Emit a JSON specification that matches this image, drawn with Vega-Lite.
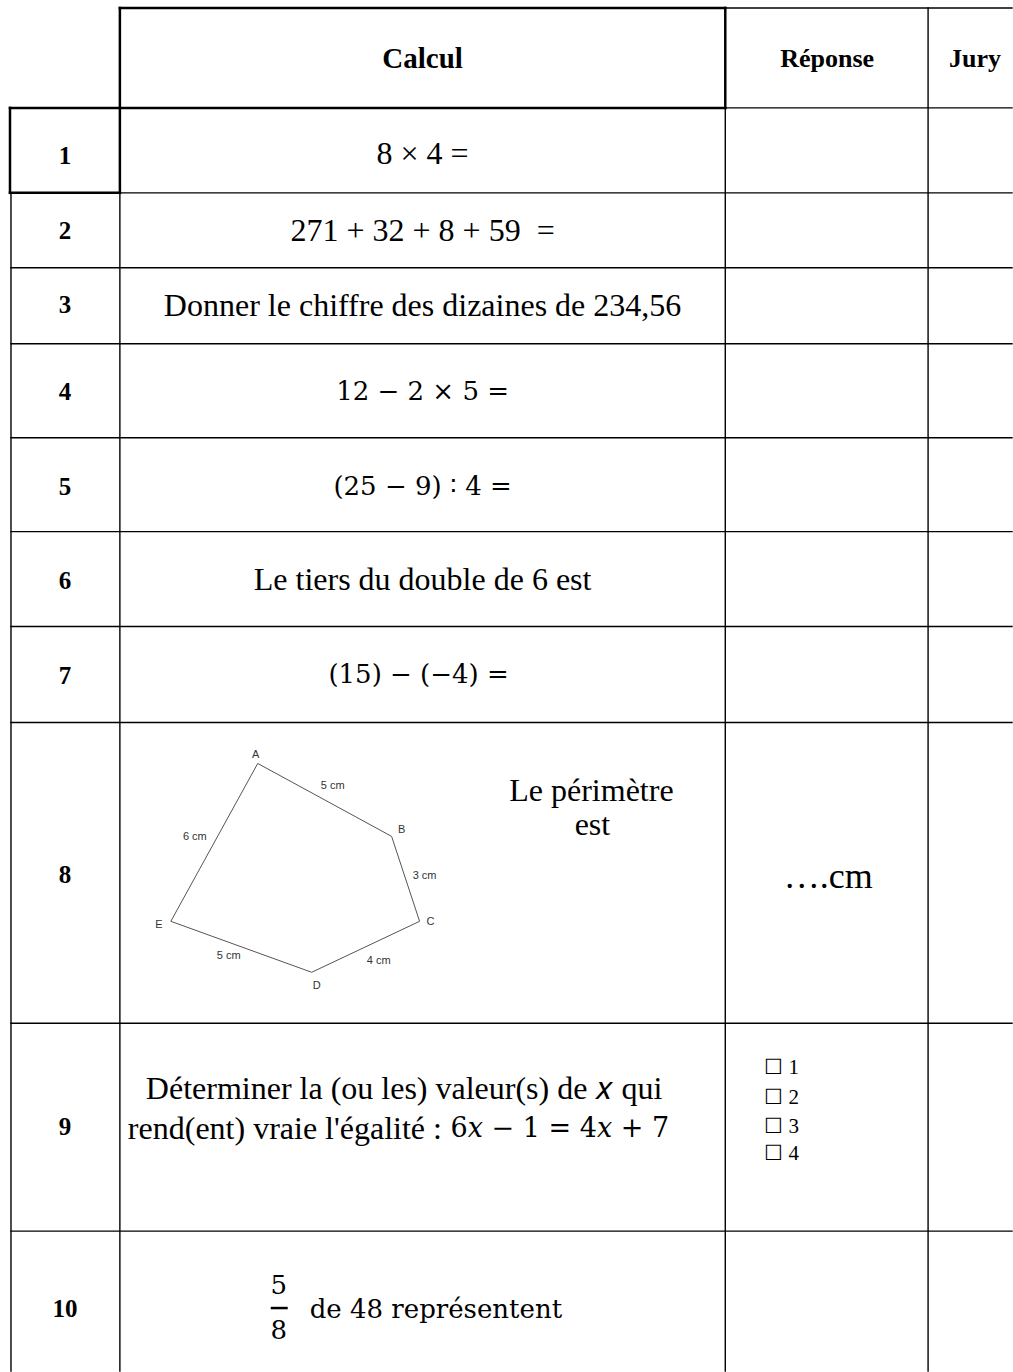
{
  "$schema": "https://vega.github.io/schema/vega-lite/v6.json",
  "autosize": {"type": "fit", "contains": "padding"},
  "width": 1013,
  "height": 1372,
  "padding": 0,
  "background": "white",
  "config": {"view": {"stroke": null}},
  "datasets": {
    "grid": [
      {"x": 120, "x2": 726, "y": 8, "y2": 8, "weight": "thick"},
      {"x": 726, "x2": 1013, "y": 8, "y2": 8, "weight": "thin"},
      {"x": 10, "x2": 726, "y": 108, "y2": 108, "weight": "thick"},
      {"x": 726, "x2": 1013, "y": 108, "y2": 108, "weight": "thin"},
      {"x": 10, "x2": 120, "y": 193, "y2": 193, "weight": "thick"},
      {"x": 120, "x2": 1013, "y": 193, "y2": 193, "weight": "thin"},
      {"x": 11, "x2": 1013, "y": 268, "y2": 268, "weight": "thin"},
      {"x": 11, "x2": 1013, "y": 344, "y2": 344, "weight": "thin"},
      {"x": 11, "x2": 1013, "y": 438, "y2": 438, "weight": "thin"},
      {"x": 11, "x2": 1013, "y": 532, "y2": 532, "weight": "thin"},
      {"x": 11, "x2": 1013, "y": 627, "y2": 627, "weight": "thin"},
      {"x": 11, "x2": 1013, "y": 723, "y2": 723, "weight": "thin"},
      {"x": 11, "x2": 1013, "y": 1024, "y2": 1024, "weight": "thin"},
      {"x": 11, "x2": 1013, "y": 1232, "y2": 1232, "weight": "thin"},
      {"x": 10, "x2": 10, "y": 108, "y2": 193, "weight": "thick"},
      {"x": 11, "x2": 11, "y": 193, "y2": 1372, "weight": "thin"},
      {"x": 120, "x2": 120, "y": 8, "y2": 193, "weight": "thick"},
      {"x": 120, "x2": 120, "y": 193, "y2": 1372, "weight": "thin"},
      {"x": 726, "x2": 726, "y": 8, "y2": 108, "weight": "thick"},
      {"x": 726, "x2": 726, "y": 108, "y2": 1372, "weight": "thin"},
      {"x": 929, "x2": 929, "y": 8, "y2": 1372, "weight": "thin"}
    ],
    "polygon": [
      {"pt": "A", "order": 1, "x": 258, "y": 764},
      {"pt": "B", "order": 2, "x": 392, "y": 837},
      {"pt": "C", "order": 3, "x": 420, "y": 922},
      {"pt": "D", "order": 4, "x": 312, "y": 973},
      {"pt": "E", "order": 5, "x": 171, "y": 922},
      {"pt": "A", "order": 6, "x": 258, "y": 764}
    ],
    "figlabels": [
      {"text": "A", "x": 256, "y": 756},
      {"text": "B", "x": 402, "y": 831},
      {"text": "C", "x": 431, "y": 923},
      {"text": "D", "x": 317, "y": 987},
      {"text": "E", "x": 159, "y": 926},
      {"text": "5 cm", "x": 333, "y": 787},
      {"text": "6 cm", "x": 195, "y": 838},
      {"text": "3 cm", "x": 425, "y": 877},
      {"text": "4 cm", "x": 379, "y": 962},
      {"text": "5 cm", "x": 229, "y": 957}
    ],
    "headers": [
      {"text": "Calcul", "x": 423, "y": 59},
      {"text": "Réponse", "x": 828, "y": 59},
      {"text": "Jury", "x": 976, "y": 59}
    ],
    "numbers": [
      {"text": "1", "x": 65, "y": 156},
      {"text": "2", "x": 65, "y": 231},
      {"text": "3", "x": 65, "y": 305},
      {"text": "4", "x": 65, "y": 392},
      {"text": "5", "x": 65, "y": 487},
      {"text": "6", "x": 65, "y": 581},
      {"text": "7", "x": 65, "y": 676},
      {"text": "8", "x": 65, "y": 876},
      {"text": "9", "x": 65, "y": 1128},
      {"text": "10", "x": 65, "y": 1310}
    ],
    "textcells": [
      {"text": "8 × 4 =", "x": 423, "y": 154},
      {"text": "271 + 32 + 8 + 59 \u00a0=", "x": 423, "y": 231},
      {"text": "Donner le chiffre des dizaines de 234,56", "x": 423, "y": 306},
      {"text": "Le tiers du double de 6 est", "x": 423, "y": 580},
      {"text": "Le périmètre", "x": 592, "y": 792},
      {"text": "est", "x": 593, "y": 826}
    ],
    "mathcells": [
      {"text": "12 − 2 × 5 =", "x": 423, "y": 392},
      {"text": "(25 − 9) ∶ 4 =", "x": 423, "y": 487},
      {"text": "(15) − (−4) =", "x": 419, "y": 675}
    ],
    "q9text": [
      {"text": "Déterminer la (ou les) valeur(s) de 𝑥 qui", "x": 146, "y": 1090},
      {"text": "rend(ent) vraie l'égalité :", "x": 128, "y": 1130}
    ],
    "q9math": [
      {"text": "6𝑥 − 1 = 4𝑥 + 7", "x": 451, "y": 1130}
    ],
    "q10frac": [
      {"text": "5", "x": 279, "y": 1287},
      {"text": "8", "x": 279, "y": 1332}
    ],
    "q10bar": [
      {"x": 271, "x2": 288, "y": 1309, "y2": 1309}
    ],
    "q10text": [
      {"text": "de 48 représentent", "x": 310, "y": 1311}
    ],
    "answer8": [
      {"text": "….cm", "x": 829, "y": 878}
    ],
    "choices": [
      {"text": "☐ 1", "x": 765, "y": 1069},
      {"text": "☐ 2", "x": 765, "y": 1099},
      {"text": "☐ 3", "x": 765, "y": 1128},
      {"text": "☐ 4", "x": 765, "y": 1155}
    ]
  },
  "encoding": {
    "x": {"field": "x", "type": "quantitative", "scale": {"domain": [0, 1013], "nice": false, "zero": false}, "axis": null},
    "y": {"field": "y", "type": "quantitative", "scale": {"domain": [0, 1372], "nice": false, "zero": false, "reverse": true}, "axis": null}
  },
  "layer": [
    {
      "data": {"name": "grid"},
      "mark": {"type": "rule", "color": "black", "strokeCap": "square"},
      "encoding": {
        "x2": {"field": "x2"},
        "y2": {"field": "y2"},
        "strokeWidth": {"field": "weight", "type": "nominal", "scale": {"domain": ["thin", "thick"], "range": [1.4, 2.5]}, "legend": null}
      }
    },
    {
      "data": {"name": "polygon"},
      "mark": {"type": "line", "color": "#555555", "strokeWidth": 1},
      "encoding": {"order": {"field": "order", "type": "quantitative"}}
    },
    {
      "data": {"name": "figlabels"},
      "mark": {"type": "text", "font": "Liberation Sans", "fontSize": 11, "color": "#333333", "align": "center", "baseline": "middle"},
      "encoding": {"text": {"field": "text"}}
    },
    {
      "data": {"name": "headers"},
      "transform": [{"filter": "datum.text === 'Calcul'"}],
      "mark": {"type": "text", "font": "Liberation Serif", "fontWeight": "bold", "fontSize": 29, "color": "black", "align": "center", "baseline": "middle"},
      "encoding": {"text": {"field": "text"}}
    },
    {
      "data": {"name": "headers"},
      "transform": [{"filter": "datum.text !== 'Calcul'"}],
      "mark": {"type": "text", "font": "Liberation Serif", "fontWeight": "bold", "fontSize": 26, "color": "black", "align": "center", "baseline": "middle"},
      "encoding": {"text": {"field": "text"}}
    },
    {
      "data": {"name": "numbers"},
      "mark": {"type": "text", "font": "Liberation Serif", "fontWeight": "bold", "fontSize": 25, "color": "black", "align": "center", "baseline": "middle"},
      "encoding": {"text": {"field": "text"}}
    },
    {
      "data": {"name": "textcells"},
      "mark": {"type": "text", "font": "Liberation Serif", "fontSize": 32, "color": "black", "align": "center", "baseline": "middle"},
      "encoding": {"text": {"field": "text"}}
    },
    {
      "data": {"name": "mathcells"},
      "mark": {"type": "text", "font": "DejaVu Serif", "fontSize": 26, "color": "black", "align": "center", "baseline": "middle"},
      "encoding": {"text": {"field": "text"}}
    },
    {
      "data": {"name": "q9text"},
      "mark": {"type": "text", "font": "Liberation Serif", "fontSize": 32, "color": "black", "align": "left", "baseline": "middle"},
      "encoding": {"text": {"field": "text"}}
    },
    {
      "data": {"name": "q9math"},
      "mark": {"type": "text", "font": "DejaVu Serif", "fontSize": 27, "color": "black", "align": "left", "baseline": "middle"},
      "encoding": {"text": {"field": "text"}}
    },
    {
      "data": {"name": "q10frac"},
      "mark": {"type": "text", "font": "DejaVu Serif", "fontSize": 26, "color": "black", "align": "center", "baseline": "middle"},
      "encoding": {"text": {"field": "text"}}
    },
    {
      "data": {"name": "q10bar"},
      "mark": {"type": "rule", "color": "black", "strokeWidth": 2.5},
      "encoding": {"x2": {"field": "x2"}, "y2": {"field": "y2"}}
    },
    {
      "data": {"name": "q10text"},
      "mark": {"type": "text", "font": "DejaVu Serif", "fontSize": 26, "color": "black", "align": "left", "baseline": "middle"},
      "encoding": {"text": {"field": "text"}}
    },
    {
      "data": {"name": "answer8"},
      "mark": {"type": "text", "font": "Liberation Serif", "fontSize": 36, "color": "black", "align": "center", "baseline": "middle"},
      "encoding": {"text": {"field": "text"}}
    },
    {
      "data": {"name": "choices"},
      "mark": {"type": "text", "font": "Liberation Serif", "fontSize": 21, "color": "black", "align": "left", "baseline": "middle"},
      "encoding": {"text": {"field": "text"}}
    }
  ]
}
